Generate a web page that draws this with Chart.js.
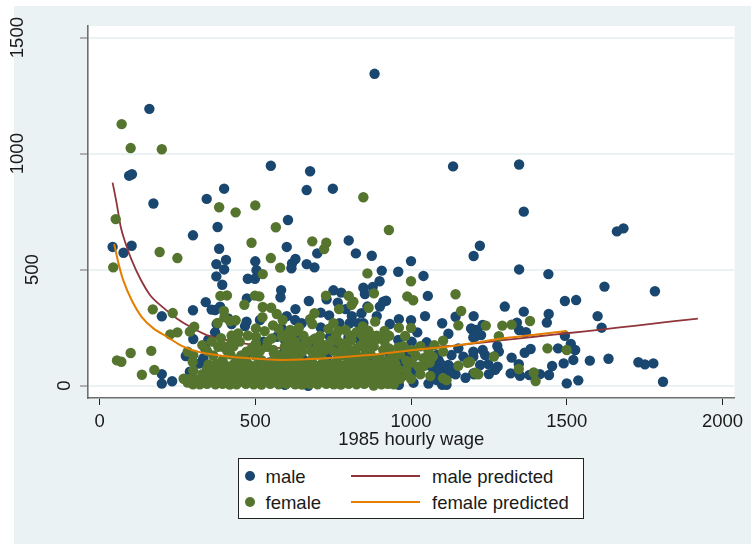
<!DOCTYPE html>
<html>
<head>
<meta charset="utf-8">
<script src="https://cdn.jsdelivr.net/npm/chart.js@4"></script>
<style>
html,body{margin:0;padding:0;background:#fff;overflow:hidden}
#bg{position:absolute;left:14px;top:6px;width:737px;height:538px;background:#eaf2f3}
#c{position:absolute;left:0;top:0}
#legend{position:absolute;left:238px;top:458px;width:344px;height:59px;border:1px solid #222;background:#fff;font-family:"Liberation Sans",Arial,sans-serif;font-size:18.5px;color:#1a1a1a}
#legend span{position:absolute;white-space:nowrap;line-height:20px}
#legend i{position:absolute;display:block}
</style>
</head>
<body>
<div id="bg"></div>
<canvas id="c" width="751" height="544"></canvas>
<div id="legend"></div>
<script>
const xTickValues = [0, 500, 1000, 1500, 2000];
const yTickValues = [0, 500, 1000, 1500];
const xAxisTitle = "1985 hourly wage";
const seriesNames = ["male", "female", "male predicted", "female predicted"];

const malePoints = [
[883,1344],[160,1193],[95,905],[104,911],[173,785],[550,948],[676,924],[344,805],[400,849],[665,843],[749,849],[379,684],[605,714],[300,648],[42,598],[103,603],[77,573],[384,590],[601,598],[800,626],[823,570],[874,560],[699,570],[406,542],[500,536],[375,524],[400,501],[504,498],[629,546],[618,527],[616,506],[665,524],[690,510],[906,496],[959,491],
[1135,945],[1347,953],[1362,750],[1661,665],[1682,678],[1221,603],[1201,559],[1000,537],[1347,501],[1441,481],
[375,471],[394,435],[476,461],[499,461],[583,412],[581,381],[473,376],[341,360],[200,299],[300,325],[360,328],[371,326],[387,340],[467,257],[472,276],[515,283],[371,230],[301,201],[349,197],[339,161],[277,128],[333,118],[376,266],[424,266],[413,290],[200,50],[200,9],[233,19],[290,60],[595,4],[585,247],[526,190],[398,168],[472,139],[595,197],[569,211],
[1040,473],[899,450],[751,411],[776,401],[729,372],[672,365],[765,358],[847,422],[877,425],[852,395],[920,366],[911,362],[900,341],[1054,387],[629,330],[601,300],[628,283],[649,269],[710,315],[737,303],[790,330],[810,300],[841,312],[860,341],[890,300],[803,269],[831,269],[847,269],[932,266],[961,287],[1000,282],[1045,300],[1100,269],[1143,297],[1201,300],[1193,247],[1210,240],[1120,224],[1020,230],[770,269],[710,251],[686,197],[740,211],[799,208],[836,197],[959,197],[1002,190],[1050,187],[1152,161],[1205,211],[1168,125],[1200,125],[1130,132],[1088,111],[1072,89],[1120,89],[975,89],[1002,111],[900,89],[868,89],[1143,49],[1175,34],[1203,49],[1104,75],[1083,53],[1056,9],[1100,4],[1114,4],[1008,13],[961,4],[879,24],[756,10],[670,0],[633,10],[601,10],
[1072,68],[1094,96],[1120,60],[1050,89],[1083,24],[1135,75],[1083,132],[1125,53],[1002,53],[1007,75],[980,46],[964,111],
[1621,427],[1783,407],[1494,365],[1530,369],[1301,341],[1362,319],[1442,309],[1436,272],[1599,300],[1612,250],[1340,272],[1347,240],[1369,231],[1230,262],[1195,243],[1213,233],[1225,218],[1200,208],[1494,215],[1513,180],[1527,154],[1472,161],[1277,171],[1282,147],[1365,142],[1384,158],[1200,147],[1230,154],[1238,132],[1323,121],[1521,111],[1574,108],[1634,116],[1730,101],[1751,92],[1778,96],[1809,17],[1500,10],[1537,23],[1490,96],[1453,85],[1346,93],[1248,93],[1222,89],[1278,82],[1270,68],[1250,50],[1320,53],[1350,43],[1380,46],[1414,50],[1443,46],[1200,53],
[320,95],[355,70],[410,60],[450,25],[520,15],[545,100],[590,90],[650,120],[700,45],[730,125],[780,30],[820,90],[850,20],[925,30],[690,160],[640,210],[590,140],[760,175],[815,140],[880,120],[930,140],[985,130]
];

const femalePoints = [
[71,1127],[100,1024],[200,1019],[52,718],[384,769],[437,747],[500,777],[847,812],[566,683],[929,671],[683,622],[728,616],[488,616],[721,589],[193,576],[250,550],[550,550],[580,509],[44,510],[524,481],[860,484],
[171,329],[235,313],[388,387],[409,389],[499,388],[513,385],[465,349],[524,339],[551,336],[569,309],[588,283],[399,322],[401,295],[379,270],[419,279],[437,282],[523,295],[557,260],[476,216],[502,247],[502,211],[424,216],[424,190],[304,254],[290,233],[227,221],[250,230],[100,141],[166,150],[56,109],[70,103],[136,47],[176,68],[270,30],[283,14],[301,65],[299,103],[283,147],[301,132],[360,190],[381,168],[401,168],[472,147],[502,182],[537,168],[553,204],[585,211],[595,168],[558,154],
[1000,450],[1143,394],[988,385],[1007,368],[1161,322],[1152,260],[727,388],[800,387],[815,362],[809,348],[881,398],[769,330],[864,336],[690,312],[676,287],[683,266],[751,269],[885,276],[767,236],[825,231],[863,237],[915,236],[961,250],[1000,249],[981,214],[708,214],[692,204],[612,240],[628,233],[595,218],[606,182],[628,190],[644,168],[724,175],[767,190],[788,182],[809,197],[825,161],[858,190],[885,197],[900,204],[873,218],[911,154],[959,165],[1002,154],[1075,174],[1103,194],[1103,147],[1056,147],[1040,118],[1040,85],[1024,82],[1152,86],[1182,99],[1209,53],[1062,42],[1103,32],[1114,24],[1030,49],[987,49],[949,96],[955,68],[933,10],[880,1],[834,24],[927,111],[943,53],[900,53],[873,46],
[1240,259],[1293,259],[1323,263],[1382,279],[1282,213],[1438,161],[1500,154],[1266,126],[1346,72],[1394,57],[1400,20],[1216,49],[1205,56],[1189,103],
[300,6],[322,6],[345,8],[372,6],[395,8],[418,5],[440,6],[470,8],[495,6],[520,5],[548,8],[575,6],[600,8],[628,6],[650,5],[675,8],[700,6],[728,8],[752,6],[775,5],[800,8],[825,6],[850,8],[905,6],[925,8],[945,6],
[285,28],[310,26],[335,30],[360,28],[385,26],[410,28],[432,30],[455,26],[480,28],[505,30],[530,26],[555,28],[580,30],[605,26],[630,28],[655,30],[680,26],[705,28],[730,30],[755,26],[780,28],[805,30],[830,26],[855,28],[885,30],[910,26],[935,28],
[330,50],[352,48],[378,52],[402,50],[425,48],[450,52],[475,50],[500,48],[525,52],[550,50],[570,48],[595,52],[620,50],[645,48],[670,52],[695,50],[720,48],[745,52],[770,50],[795,48],[820,52],[845,50],[870,48],[895,52],[920,50],[950,48],
[345,72],[370,70],[395,74],[420,72],[445,70],[468,74],[492,72],[515,70],[540,74],[565,72],[590,70],[615,74],[640,72],[662,70],[688,74],[712,72],[738,70],[760,74],[785,72],[810,70],[835,74],[860,72],[888,70],[915,74],[940,72],[958,70],
[350,92],[375,94],[400,90],[430,92],[455,94],[480,90],[508,92],[530,94],[555,90],[585,92],[610,94],[635,90],[660,92],[685,94],[710,90],[735,92],[765,94],[790,90],[815,92],[840,94],[865,90],[895,92],[925,94],[950,90],
[395,110],[440,112],[470,108],[520,110],[560,112],[600,108],[640,110],[680,112],[720,108],[760,110],[800,112],[850,108],[890,110],[945,112],[985,108],
[420,135],[500,130],[560,140],[620,130],[650,145],[700,135],[750,150],[790,140],[830,125],[870,135],[900,120],
[620,165],[660,180],[700,170],[740,160],[780,160],[840,175],[880,170],
[330,175],[345,150],[365,130],[410,150],[430,170],[450,190],[455,130],[490,165],[515,150],[540,190],[575,130],[600,145],[615,200],[640,150],[655,215],[670,190],[680,150],[705,190],[720,150],[745,195],[760,220],[775,130],[795,165],[805,215],[820,145],[845,215],[855,150],[870,160],[890,215],[915,190],[930,160],[940,130],[965,135],[975,170],[985,70],[1000,100],[1015,130],[1030,170],[1060,100],[1070,125],[1000,30],[965,30],[390,205],[445,225],[530,235],[575,245],[640,250],[735,245],[790,240],[845,255],[930,215],
[310,16],[335,16],[360,18],[385,16],[410,18],[432,16],[458,18],[482,16],[508,18],[535,16],[560,18],[590,16],[615,18],[640,16],[665,18],[690,16],[715,18],[740,16],[765,18],[790,16],[815,18],[840,16],[865,18],[895,16],[918,18],
[345,40],[370,38],[395,40],[420,38],[445,40],[468,38],[492,40],[518,38],[542,40],[565,38],[590,40],[615,38],[640,40],[665,38],[690,40],[715,38],[740,40],[765,38],[790,40],[815,38],[840,40],[865,38],[890,40],[915,38],
[360,60],[385,62],[410,60],[435,62],[460,60],[485,62],[510,60],[535,62],[558,60],[580,62],[605,60],[630,62],[655,60],[680,62],[705,60],[730,62],[755,60],[780,62],[805,60],[830,62],[855,60],[880,62],[905,60],[930,62],
[360,82],[385,84],[412,82],[438,84],[462,82],[488,84],[520,82],[545,84],[572,82],[598,84],[625,82],[650,84],[675,82],[700,84],[725,82],[750,84],[778,82],[802,84],[828,82],[852,84],[878,82],[905,84],[935,82]
];

const malePredicted = [
[42,875],[55,786],[68,685],[80,628],[103,542],[130,463],[162,391],[194,348],[248,290],[291,254],[344,218],[398,200],[473,180],[580,162],[676,152],[868,157],[1018,165],[1125,171],[1189,180],[1296,196],[1403,212],[1500,226],[1617,243],[1724,259],[1831,276],[1921,289]
];
const femalePredicted = [
[47,611],[61,527],[76,455],[103,369],[135,297],[173,247],[216,211],[269,168],[323,144],[398,128],[483,118],[579,111],[676,115],[794,125],[901,137],[1008,154],[1115,168],[1189,182],[1296,204],[1403,221],[1500,236]
];

const colors = {male:"#1a476f", female:"#55752f", malePred:"#90353b", femalePred:"#e37e00"};
const toXY = p => p.map(([x,y]) => ({x,y}));
const FONT = '"Liberation Sans", Arial, sans-serif';
const yLabelCentre = {0:65, 500:33, 1000:18, 1500:18};

const plotBackground = {
  id:"plotBackground",
  beforeDraw(chart){
    const {ctx, chartArea:a} = chart;
    ctx.save(); ctx.fillStyle="#fff"; ctx.fillRect(a.left,a.top,a.right-a.left,a.bottom-a.top); ctx.restore();
    const y = chart.scales.y;
    y.getLabelItems(a).forEach((it,i)=>{
      const v = y.ticks[i].value;
      if (v in yLabelCentre) it.options.translation[0] = yLabelCentre[v];
    });
  }
};

new Chart(document.getElementById("c"),{
  type:"scatter",
  plugins:[plotBackground],
  data:{datasets:[
    {label:seriesNames[0],data:toXY(malePoints),order:4,backgroundColor:colors.male,borderWidth:0,pointRadius:5.2},
    {label:seriesNames[2],data:toXY(malePredicted),order:3,showLine:true,tension:0.3,borderColor:colors.malePred,borderWidth:1.8,pointRadius:0},
    {label:seriesNames[1],data:toXY(femalePoints),order:2,backgroundColor:colors.female,borderWidth:0,pointRadius:5.2},
    {label:seriesNames[3],data:toXY(femalePredicted),order:1,showLine:true,tension:0.3,borderColor:colors.femalePred,borderWidth:2,pointRadius:0}
  ]},
  options:{
    responsive:false,animation:false,events:[],
    layout:{padding:{top:26,right:16.5,bottom:93,left:0}},
    plugins:{legend:{display:false},tooltip:{enabled:false}},
    scales:{
      x:{
        type:"linear",min:-37,max:2038.5,
        afterBuildTicks:s=>{s.ticks=xTickValues.map(value=>({value}));},
        afterFit:s=>{s.height=53;},
        grid:{drawOnChartArea:false,drawTicks:true,tickLength:7,tickColor:"#222",tickWidth:1},
        border:{color:"#6e6e6e",width:1.6},
        ticks:{autoSkip:false,maxRotation:0,color:"#1a1a1a",padding:6,font:{family:FONT,size:18.5},callback:v=>String(v)},
        title:{display:true,text:xAxisTitle,color:"#1a1a1a",padding:{top:0,bottom:0},font:{family:FONT,size:18.5}}
      },
      y:{
        type:"linear",min:-53,max:1550,
        afterBuildTicks:s=>{s.ticks=yTickValues.map(value=>({value}));},
        afterFit:s=>{s.width=88;},
        grid:{color:"#eaf2f3",lineWidth:2,tickLength:8,tickColor:"#6e6e6e",tickWidth:1},
        border:{color:"#6e6e6e",width:1.6},
        ticks:{autoSkip:false,minRotation:90,maxRotation:90,crossAlign:"center",color:"#1a1a1a",padding:3,font:{family:FONT,size:18.5},callback:v=>String(v)}
      }
    }
  }
});

// legend
const lg=document.getElementById("legend");
const rows=[[seriesNames[0],colors.male,seriesNames[2],colors.malePred,17],[seriesNames[1],colors.female,seriesNames[3],colors.femalePred,43]];
rows.forEach(([a,ca,b,cb,y])=>{
  lg.insertAdjacentHTML("beforeend",
   `<i style="left:6px;top:${y-5}px;width:10px;height:10px;border-radius:50%;background:${ca}"></i>`+
   `<span style="left:26.5px;top:${y-9}px">${a}</span>`+
   `<i style="left:112px;top:${y-1}px;width:69px;height:2px;background:${cb}"></i>`+
   `<span style="left:193px;top:${y-9}px">${b}</span>`);
});
</script>
</body>
</html>
